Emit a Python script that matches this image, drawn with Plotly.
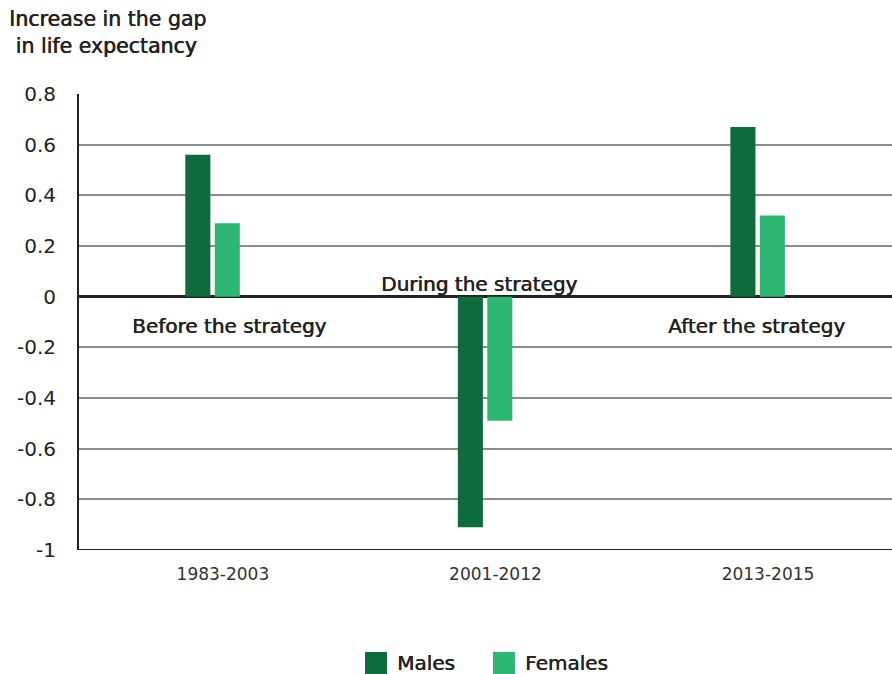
import plotly.graph_objects as go

# Change in the life-expectancy gap, by period and sex
periods = ["1983-2003", "2001-2012", "2013-2015"]
males = [0.56, -0.91, 0.67]
females = [0.29, -0.49, 0.32]
series_names = ["Males", "Females"]
period_notes = ["Before the strategy", "During the strategy", "After the strategy"]
note_levels = [-0.115, 0.05, -0.115]
y_ticks = [0.8, 0.6, 0.4, 0.2, 0, -0.2, -0.4, -0.6, -0.8, -1]
y_tick_text = ["0.8", "0.6", "0.4", "0.2", "0", "-0.2", "-0.4", "-0.6", "-0.8", "-1"]

DARK = "#0E6B3C"
LIGHT = "#2EB772"
INK = "#222222"
FONT = "DejaVu Sans"
# slight horizontal shadow gives the labels a medium weight
MEDIUM = "0.6px 0px 0px #222222"

W, H = 892, 674
M_L, M_R, M_T, M_B = 79, 0, 94, 124
plot_w = W - M_L - M_R
plot_h = H - M_T - M_B


def paper_x(px):
    return (px - M_L) / plot_w


def paper_y(py):
    return (H - M_B - py) / plot_h


fig = go.Figure()
fig.add_trace(go.Bar(x=periods, y=males, name=series_names[0], marker_color=DARK,
                     marker_line_width=0, width=0.092, offset=-0.138, showlegend=False))
fig.add_trace(go.Bar(x=periods, y=females, name=series_names[1], marker_color=LIGHT,
                     marker_line_width=0, width=0.092, offset=-0.03, showlegend=False))

# period notes around the zero line
for i, (txt, lvl) in enumerate(zip(period_notes, note_levels)):
    fig.add_annotation(x=periods[i], y=lvl, xref="x", yref="y", text=txt, showarrow=False,
                       xshift=[7, -16, -11][i],
                       font=dict(family=FONT, size=20, color=INK, shadow=MEDIUM))

# axis title, two lines at the top-left
fig.add_annotation(x=paper_x(7), y=paper_y(5), xref="paper", yref="paper",
                   xanchor="left", yanchor="top",
                   text="Increase in the gap<br> in life expectancy", showarrow=False, align="left",
                   font=dict(family=FONT, size=20.5, color=INK, shadow=MEDIUM))

# baseline at -1
fig.add_shape(type="line", xref="paper", yref="y", x0=0, x1=1, y0=-1, y1=-1,
              line=dict(color=INK, width=2))

# legend: coloured squares with labels below the plot
for name, color, px in zip(series_names, [DARK, LIGHT], [365, 493]):
    fig.add_shape(type="rect", xref="paper", yref="paper",
                  x0=paper_x(px), x1=paper_x(px + 22),
                  y0=paper_y(674), y1=paper_y(652),
                  line_width=0, fillcolor=color)
    fig.add_annotation(xref="paper", yref="paper", x=paper_x(px + 30), y=paper_y(663),
                       xanchor="left", yanchor="middle", text=name, showarrow=False,
                       font=dict(family=FONT, size=20, color=INK, shadow=MEDIUM))

fig.update_layout(
    width=W, height=H,
    margin=dict(l=M_L, r=M_R, t=M_T, b=M_B),
    plot_bgcolor="white", paper_bgcolor="white",
    font=dict(family=FONT, color=INK),
    barmode="group",
    xaxis=dict(range=[-0.528, 2.455], showgrid=False, showline=False, zeroline=False,
               tickfont=dict(family=FONT, size=17, color="#333333"), ticks="",
               ticklabelstandoff=12),
    yaxis=dict(range=[-1, 0.8], tickvals=y_ticks, ticktext=y_tick_text,
               showgrid=True, gridcolor="#8C8C8C", gridwidth=1.5,
               zeroline=True, zerolinecolor=INK, zerolinewidth=2.5,
               showline=True, linecolor=INK, linewidth=2,
               tickfont=dict(family=FONT, size=20, color=INK), ticks="",
               ticklabelstandoff=17),
)

fig.write_html("out.html")
